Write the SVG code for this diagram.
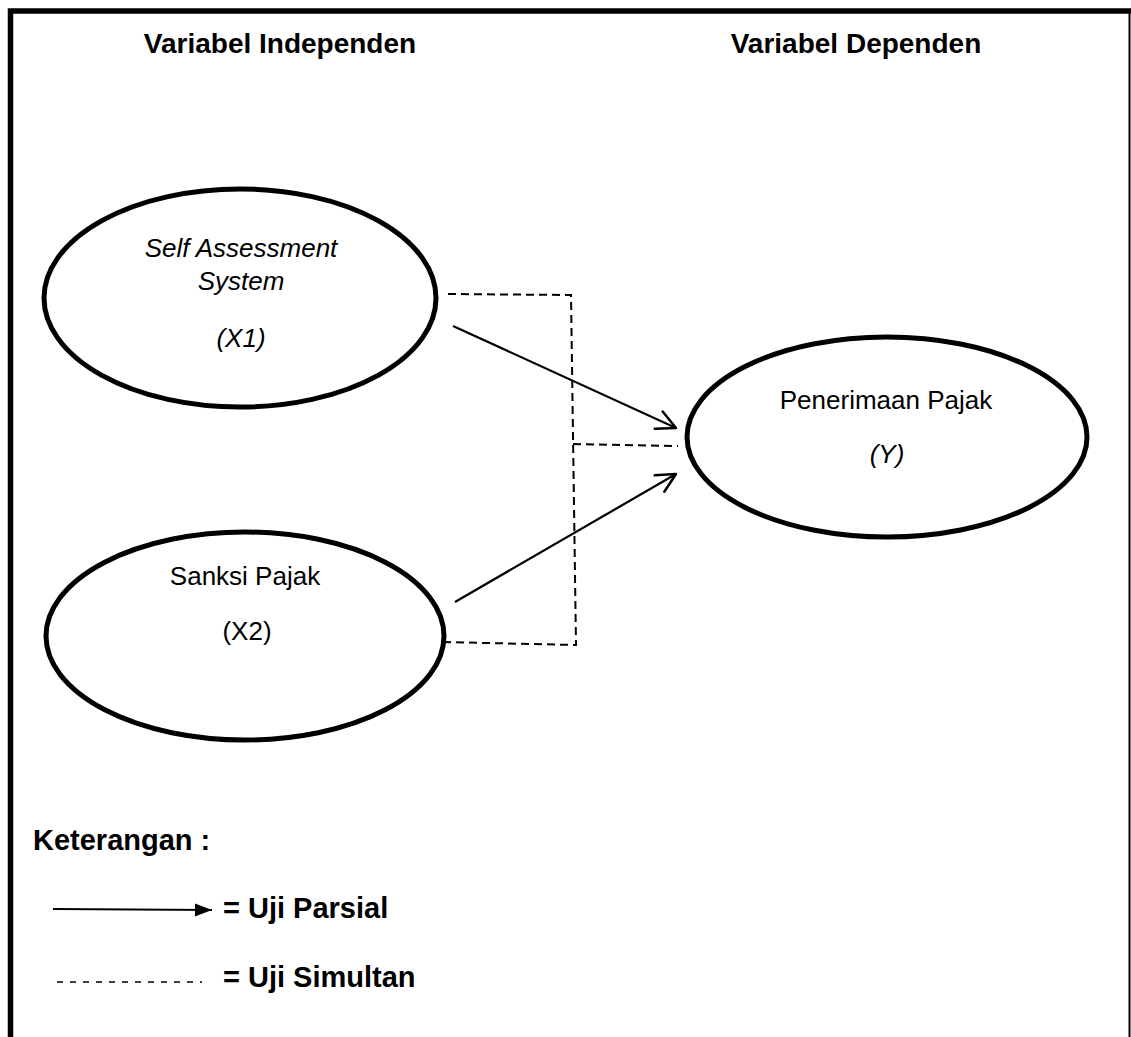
<svg xmlns="http://www.w3.org/2000/svg" width="1131" height="1037" viewBox="0 0 1131 1037">
  <defs>
    <marker id="open" markerUnits="userSpaceOnUse" markerWidth="30" markerHeight="30" viewBox="-25 -15 30 30" refX="0" refY="0" orient="auto">
      <path d="M-19,-9.5 L0,0 L-19,9.5" fill="none" stroke="#000" stroke-width="2.5" stroke-linecap="round" stroke-linejoin="round"/>
    </marker>
    <marker id="filled" markerUnits="userSpaceOnUse" markerWidth="24" markerHeight="20" viewBox="-20 -10 24 20" refX="0" refY="0" orient="auto">
      <path d="M-17,-6.5 L0,0 L-17,6.5 Z" fill="#000"/>
    </marker>
  </defs>
  <style>
    .node { fill: #fff; stroke: #000; stroke-width: 5; }
    .lbl { font-family: "Liberation Sans", Arial, sans-serif; font-size: 26px; fill: #000; text-anchor: middle; }
    .it { font-style: italic; }
    .bold { font-family: "Liberation Sans", Arial, sans-serif; font-size: 28px; font-weight: bold; fill: #000; }
    .leg { font-size: 29px; }
    .dash { fill: none; stroke: #000; stroke-width: 2; stroke-dasharray: 8 5; }
    .solid { fill: none; stroke: #000; stroke-width: 2.2; }
  </style>
  <rect x="0" y="0" width="1131" height="1037" fill="#fff"/>
  <g id="frame">
    <path d="M10.5,1037 L10.5,11 L1131,11" fill="none" stroke="#000" stroke-width="5.5"/>
    <line x1="1129.5" y1="11" x2="1129.5" y2="1037" stroke="#000" stroke-width="2"/>
  </g>
  <g id="headers">
    <text class="bold" x="280" y="53" text-anchor="middle">Variabel Independen</text>
    <text class="bold" x="856" y="53" text-anchor="middle">Variabel Dependen</text>
  </g>
  <g id="connectors">
    <polyline class="dash" points="448,294 571,295 576,645 443,642"/>
    <line class="dash" x1="573" y1="444" x2="678" y2="446"/>
    <line class="solid" x1="453" y1="326" x2="676" y2="428" marker-end="url(#open)"/>
    <line class="solid" x1="455" y1="602" x2="676" y2="474" marker-end="url(#open)"/>
  </g>
  <g id="node-x1">
    <ellipse class="node" cx="240" cy="298" rx="196" ry="109"/>
    <text class="lbl it" x="241" y="257">Self Assessment</text>
    <text class="lbl it" x="241" y="290">System</text>
    <text class="lbl it" x="241" y="347">(X1)</text>
  </g>
  <g id="node-x2">
    <ellipse class="node" cx="245" cy="636" rx="199" ry="104"/>
    <text class="lbl" x="245" y="585">Sanksi Pajak</text>
    <text class="lbl" x="247" y="640">(X2)</text>
  </g>
  <g id="node-y">
    <ellipse class="node" cx="887" cy="437" rx="200" ry="100"/>
    <text class="lbl" x="886" y="409">Penerimaan Pajak</text>
    <text class="lbl it" x="887" y="463">(Y)</text>
  </g>
  <g id="legend">
    <text class="bold leg" x="33" y="850">Keterangan :</text>
    <line x1="53" y1="909" x2="212" y2="910" stroke="#000" stroke-width="2.2" marker-end="url(#filled)"/>
    <text class="bold leg" x="223" y="918">= Uji Parsial</text>
    <line x1="57" y1="982" x2="202" y2="982" stroke="#000" stroke-width="1.5" stroke-dasharray="6 7"/>
    <text class="bold leg" x="223" y="987">= Uji Simultan</text>
  </g>
</svg>
